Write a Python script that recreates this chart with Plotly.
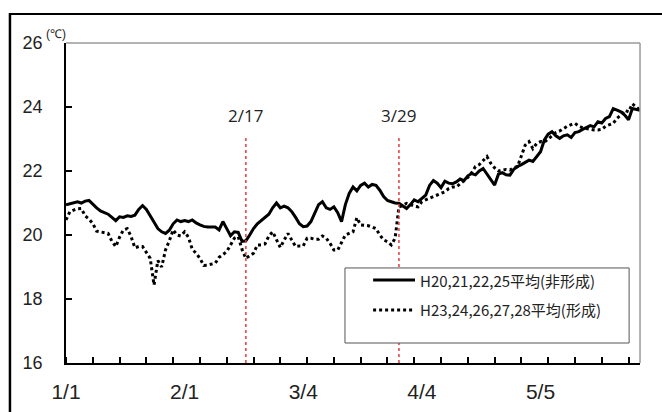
import pandas as pd
import plotly.graph_objects as go

# Daily mean water temperature, 1 Jan - 31 May
dates = pd.date_range("2017-01-01", "2017-05-31", freq="D")

# H20,21,22,25 average (non-formation years)
non_formation = [
    20.94, 20.98, 21.00, 21.04, 21.00, 21.06, 21.08, 20.95, 20.85, 20.75,
    20.70, 20.65, 20.55, 20.45, 20.57, 20.55, 20.60, 20.58, 20.62, 20.80,
    20.92, 20.80, 20.60, 20.40, 20.20, 20.10, 20.05, 20.15, 20.35, 20.47,
    20.42, 20.45, 20.42, 20.47, 20.38, 20.32, 20.27, 20.25, 20.26, 20.25,
    20.16, 20.42, 20.20, 19.98, 20.10, 20.08, 19.80, 19.82, 20.00, 20.20,
    20.35, 20.45, 20.52, 20.65, 20.85, 21.00, 20.85, 20.90, 20.85, 20.73,
    20.55, 20.35, 20.26, 20.28, 20.42, 20.70, 20.95, 21.04, 20.85, 20.80,
    20.88, 20.70, 20.42, 20.95, 21.30, 21.50, 21.38, 21.55, 21.62, 21.50,
    21.58, 21.55, 21.40, 21.20, 21.08, 21.04, 21.00, 20.99, 20.90, 20.83,
    20.95, 21.10, 21.04, 21.15, 21.25, 21.55, 21.70, 21.62, 21.48, 21.68,
    21.62, 21.60, 21.66, 21.75, 21.70, 21.85, 21.92, 21.88, 22.00, 22.08,
    21.90, 21.70, 21.56, 21.90, 21.95, 21.88, 21.87, 22.05, 22.14, 22.20,
    22.28, 22.34, 22.30, 22.45, 22.60, 22.97, 23.15, 23.23, 23.10, 23.02,
    23.10, 23.13, 23.05, 23.20, 23.23, 23.30, 23.35, 23.42, 23.38, 23.54,
    23.50, 23.64, 23.70, 23.95, 23.90, 23.85, 23.75, 23.60, 23.95, 23.92,
    23.90,
]

# H23,24,26,27,28 average (formation years)
formation = [
    20.47, 20.73, 20.78, 20.82, 20.83, 20.60, 20.50, 20.36, 20.12, 20.10,
    20.08, 20.05, 19.80, 19.64, 19.93, 20.16, 20.20, 19.95, 19.60, 19.64,
    19.64, 19.45, 19.27, 18.44, 19.20, 19.00, 19.53, 19.82, 20.16, 20.00,
    19.97, 20.10, 19.93, 19.55, 19.43, 19.27, 19.05, 19.06, 19.10, 19.12,
    19.30, 19.40, 19.48, 19.69, 19.90, 19.95, 19.55, 19.27, 19.35, 19.43,
    19.69, 19.69, 19.72, 19.97, 20.10, 19.84, 19.61, 19.84, 20.05, 19.84,
    19.64, 19.66, 19.66, 19.90, 19.90, 19.87, 19.87, 19.97, 19.90, 19.74,
    19.53, 19.53, 19.79, 20.00, 20.05, 20.10, 20.54, 20.31, 20.30, 20.29,
    20.25, 20.20, 20.00, 19.85, 19.79, 19.69, 19.90, 20.88, 20.92, 20.99,
    20.95, 20.90, 20.88, 21.04, 21.10, 21.15, 21.20, 21.25, 21.30, 21.35,
    21.45, 21.50, 21.50, 21.60, 21.70, 21.80, 21.95, 22.14, 22.20, 22.34,
    22.45, 22.24, 22.10, 22.00, 22.03, 22.05, 22.03, 22.10, 22.14, 22.50,
    22.81, 22.92, 22.70, 22.86, 22.92, 22.90, 23.00, 23.10, 23.20, 23.25,
    23.33, 23.40, 23.45, 23.49, 23.40, 23.35, 23.33, 23.30, 23.28, 23.28,
    23.30, 23.40, 23.45, 23.49, 23.65, 23.75, 23.90, 23.85, 24.10, 24.00,
    23.90,
]

series_names = ["H20,21,22,25平均(非形成)", "H23,24,26,27,28平均(形成)"]

tick_dates = ["2017-01-01", "2017-02-01", "2017-03-04", "2017-04-04", "2017-05-05"]
tick_labels = ["1/1", "2/1", "3/4", "4/4", "5/5"]

marker_dates = ["2017-02-17", "2017-03-29"]
marker_labels = ["2/17", "3/29"]

y_ticks = [16, 18, 20, 22, 24, 26]

fig = go.Figure()

# page frame (left and top edges) on a full-page axis pair drawn underneath the chart
fig.add_trace(go.Scatter(
    x=[0, 0, 1], y=[0, 1, 1], xaxis="x", yaxis="y", mode="lines",
    line=dict(color="black", width=2.5), hoverinfo="skip", showlegend=False,
))

# temperature series on the chart axes
fig.add_trace(go.Scatter(
    x=dates, y=non_formation, mode="lines", name=series_names[0],
    xaxis="x2", yaxis="y2", line=dict(color="black", width=3),
))
fig.add_trace(go.Scatter(
    x=dates, y=formation, mode="lines", name=series_names[1],
    xaxis="x2", yaxis="y2", line=dict(color="black", width=3, dash="3px,3px"),
))

shapes = []
# thin grey frame on the top and right of the plotting area
shapes.append(dict(type="line", xref="x2 domain", yref="y2 domain", x0=0, x1=1, y0=1, y1=1,
                   line=dict(color="#9a9a9a", width=1.5), layer="above"))
shapes.append(dict(type="line", xref="x2 domain", yref="y2 domain", x0=1, x1=1, y0=0, y1=1,
                   line=dict(color="#9a9a9a", width=1.5), layer="above"))
# red dotted date markers
for d in marker_dates:
    shapes.append(dict(type="line", xref="x2", yref="y2", x0=d, x1=d, y0=16, y1=23.1,
                       line=dict(color="#e23a3a", width=1.5, dash="dot"), layer="above"))
# legend box
shapes.append(dict(type="rect", xref="x2 domain", yref="y2 domain", x0=0.486, x1=0.981,
                   y0=0.0625, y1=0.297, fillcolor="white",
                   line=dict(color="#555555", width=1), layer="above"))
shapes.append(dict(type="line", xref="x2 domain", yref="y2 domain", x0=0.535, x1=0.608,
                   y0=0.259, y1=0.259, line=dict(color="black", width=3), layer="above"))
shapes.append(dict(type="line", xref="x2 domain", yref="y2 domain", x0=0.535, x1=0.608,
                   y0=0.166, y1=0.166, line=dict(color="black", width=3, dash="3px,3px"),
                   layer="above"))

annotations = []
for d, lab in zip(marker_dates, marker_labels):
    annotations.append(dict(x=d, y=23.72, xref="x2", yref="y2", text=lab, showarrow=False,
                            font=dict(family="Open Sans", size=17, color="#222222")))
annotations.append(dict(x=0.613, y=0.259, xref="x2 domain", yref="y2 domain", text=series_names[0],
                        showarrow=False, xanchor="left", yanchor="middle",
                        font=dict(family="Noto Sans CJK JP", size=15, color="#222222")))
annotations.append(dict(x=0.613, y=0.166, xref="x2 domain", yref="y2 domain", text=series_names[1],
                        showarrow=False, xanchor="left", yanchor="middle",
                        font=dict(family="Noto Sans CJK JP", size=15, color="#222222")))
annotations.append(dict(x=0.004, y=1.0, xref="x2 domain", yref="y2 domain", text="(℃)",
                        showarrow=False, xanchor="right", yanchor="bottom",
                        font=dict(family="Liberation Sans", size=12, color="#222222")))

fig.update_layout(
    width=662, height=412,
    margin=dict(l=8, r=0, t=13, b=0),
    paper_bgcolor="white", plot_bgcolor="white",
    showlegend=False,
    shapes=shapes,
    annotations=annotations,
    xaxis=dict(domain=[0, 1], range=[-0.003, 1], anchor="y", visible=False,
               fixedrange=True),
    yaxis=dict(domain=[0, 1], range=[0, 1.002], anchor="x", visible=False,
               fixedrange=True),
    xaxis2=dict(
        type="date", range=["2017-01-01", "2017-05-31"], automargin=False, anchor="y2",
        domain=[0.0887, 0.9664],
        tickmode="array", tickvals=tick_dates, ticktext=tick_labels,
        ticks="", showgrid=False, zeroline=False,
        showline=True, linecolor="black", linewidth=2,
        tickfont=dict(family="Liberation Sans Narrow, Liberation Sans", size=21, color="#222222"),
        ticklabelstandoff=9,
        minor=dict(ticks="inside", ticklen=6, tickwidth=1.5, tickcolor="black",
                   dtick=7 * 86400000, tick0="2017-01-01", showgrid=False),
    ),
    yaxis2=dict(
        range=[16, 26], tickmode="array", tickvals=y_ticks, automargin=False, anchor="x2",
        domain=[0.1228, 0.9248],
        ticks="inside", ticklen=6, tickwidth=1.5, tickcolor="black",
        showgrid=False, zeroline=False,
        showline=True, linecolor="black", linewidth=2,
        tickfont=dict(family="Liberation Sans", size=18, color="#222222"),
        ticklabelstandoff=18,
    ),
)

fig.write_html("out.html")
